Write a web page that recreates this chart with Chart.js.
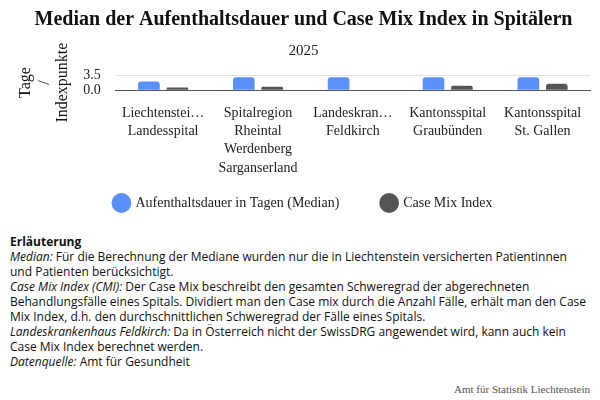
<!DOCTYPE html>
<html lang="de">
<head>
<meta charset="utf-8">
<script src="https://cdn.jsdelivr.net/npm/chart.js@4.4.1/dist/chart.umd.min.js"></script>
<style>
    body { margin: 0; background: #fff; width: 600px; height: 400px; overflow: hidden; position: relative; }
    #wrap { position: absolute; left: 0; top: 0; width: 600px; height: 220px; }
    #notes {
        position: absolute; left: 10px; top: 234px; width: 585px;
        font-family: "Open Sans", sans-serif; font-size: 12px; line-height: 15px; color: #111;
        white-space: nowrap;
    }
    #notes b { font-weight: 700; }
    #source {
        position: absolute; right: 10px; top: 383px;
        font-family: "Liberation Serif", serif; font-size: 11px; color: #555;
    }
</style>
</head>
<body>
<div id="wrap"><canvas id="chart"></canvas></div>
<div id="notes">
    <b>Erläuterung</b><br>
    <i>Median:</i> Für die Berechnung der Mediane wurden nur die in Liechtenstein versicherten Patientinnen<br>
    und Patienten berücksichtigt.<br>
    <i>Case Mix Index (CMI):</i> Der Case Mix beschreibt den gesamten Schweregrad der abgerechneten<br>
    Behandlungsfälle eines Spitals. Dividiert man den Case mix durch die Anzahl Fälle, erhält man den Case<br>
    Mix Index, d.h. den durchschnittlichen Schweregrad der Fälle eines Spitals.<br>
    <i>Landeskrankenhaus Feldkirch:</i> Da in Österreich nicht der SwissDRG angewendet wird, kann auch kein<br>
    Case Mix Index berechnet werden.<br>
    <i>Datenquelle:</i> Amt für Gesundheit
</div>
<div id="source">Amt für Statistik Liechtenstein</div>
<script>
// Spitäler (Beschriftung wie im Original umbrochen)
const hospitals = [
    ['Liechtenstei…', 'Landesspital'],
    ['Spitalregion', 'Rheintal', 'Werdenberg', 'Sarganserland'],
    ['Landeskran…', 'Feldkirch'],
    ['Kantonsspital', 'Graubünden'],
    ['Kantonsspital', 'St. Gallen']
];
// Median Aufenthaltsdauer in Tagen
const stayMedian = [2, 3, 3, 3, 3];
// Case Mix Index (Feldkirch: keine Angabe)
const caseMix = [0.6, 0.8, null, 1.0, 1.5];
const yTicks = [0, 3.5];

const serif = '"Liberation Serif", "Times New Roman", serif';

new Chart(document.getElementById('chart'), {
    type: 'bar',
    data: {
        labels: hospitals,
        datasets: [
            {
                label: 'Aufenthaltsdauer in Tagen (Median)',
                data: stayMedian,
                backgroundColor: '#5b8ff9',
                borderRadius: 3
            },
            {
                label: 'Case Mix Index',
                data: caseMix,
                backgroundColor: '#555555',
                borderRadius: 3
            }
        ]
    },
    options: {
        responsive: true,
        maintainAspectRatio: false,
        animation: false,
        layout: { padding: { left: 17, right: 10, top: 0, bottom: 0 } },
        datasets: { bar: { categoryPercentage: 0.6, barPercentage: 0.76 } },
        plugins: {
            title: {
                display: true,
                text: 'Median der Aufenthaltsdauer und Case Mix Index in Spitälern',
                color: '#111',
                font: { family: serif, size: 20, weight: 'bold' },
                padding: { top: 8, bottom: 5 }
            },
            subtitle: {
                display: true,
                text: '2025',
                color: '#222',
                font: { family: serif, size: 15 },
                padding: { top: 5, bottom: 15 }
            },
            legend: {
                position: 'bottom',
                labels: {
                    usePointStyle: true,
                    pointStyle: 'circle',
                    boxWidth: 14,
                    boxHeight: 14,
                    padding: 5,
                    color: '#222',
                    font: { family: serif, size: 14 },
                    // extra room between the two legend entries
                    generateLabels: chart => {
                        const items = Chart.defaults.plugins.legend.labels.generateLabels(chart);
                        items[0].text += '\u2003\u2003\u2002\u2009';
                        return items;
                    }
                }
            },
            tooltip: { enabled: false }
        },
        scales: {
            x: {
                grid: { display: false, drawTicks: false },
                border: { color: '#555', width: 1 },
                ticks: {
                    color: '#222',
                    padding: 14,
                    maxRotation: 0,
                    autoSkip: false,
                    font: { family: serif, size: 14, lineHeight: 1.3 }
                }
            },
            y: {
                min: yTicks[0],
                max: yTicks[1],
                afterBuildTicks: axis => { axis.ticks = yTicks.map(v => ({ value: v })); },
                grid: { color: '#e3e3e3', drawTicks: false },
                border: { display: false },
                ticks: {
                    color: '#222',
                    padding: 15,
                    autoSkip: false,
                    font: { family: serif, size: 14 },
                    callback: v => Number(v).toFixed(1)
                },
                title: {
                    display: true,
                    text: ['Tage', '/', 'Indexpunkte'],
                    color: '#111',
                    font: { family: serif, size: 16, lineHeight: 1.15 },
                    padding: { top: 0, bottom: -4 }
                }
            }
        }
    }
});
</script>
</body>
</html>
